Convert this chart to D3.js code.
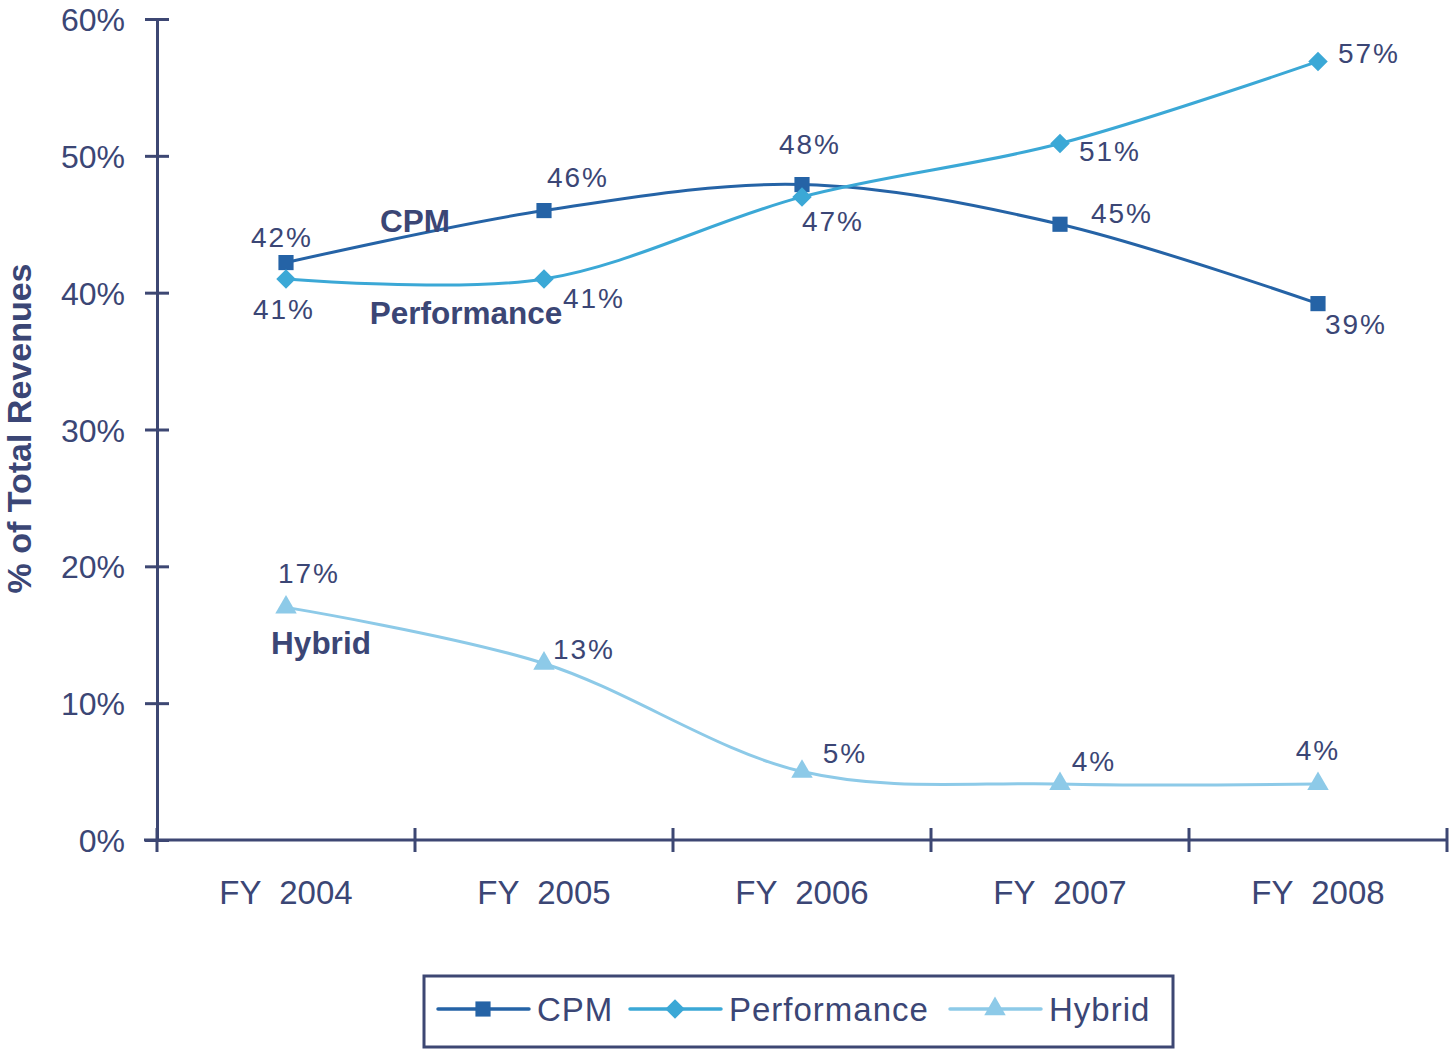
<!DOCTYPE html>
<html>
<head>
<meta charset="utf-8">
<script src="https://cdn.jsdelivr.net/npm/d3@7"></script>
<style>
  body { margin: 0; background: #fff; }
  svg text { font-family: "Liberation Sans", Arial, sans-serif; fill: #3B4675; }
</style>
</head>
<body>
<svg id="chart"></svg>
<script>
// data
var years = ['FY 2004', 'FY 2005', 'FY 2006', 'FY 2007', 'FY 2008'];
var cpm = [42.2, 46.0, 47.9, 45.0, 39.2];
var performance = [41.0, 41.0, 47.0, 50.9, 56.9];
var hybrid = [17.0, 12.9, 5.0, 4.1, 4.1];
var yTicks = [0, 10, 20, 30, 40, 50, 60];
var seriesNames = ['CPM', 'Performance', 'Hybrid'];

// label placement (dx, dy from the point)
var cpmLabelPos = [[-4, -26], [34, -34], [8, -41], [62, -11], [38, 20]];
var perfLabelPos = [[-2, 30], [50, 19], [31, 24], [50, 7], [51, -8]];
var hybridLabelPos = [[23, -34], [40, -15], [43, -19], [34, -23], [0, -34]];

var colors = { CPM: '#2563A6', Performance: '#3BA8D6', Hybrid: '#8DCAE8' };
var axisColor = '#3D4773';

var w = 1450, h = 1050;
var margin = { left: 157, right: 3, top: 19, bottom: 210 };

var svg = d3.select('#chart').attr('width', w).attr('height', h);

var x = d3.scaleBand()
    .domain(years)
    .range([margin.left, w - margin.right])
    .padding(0);

var y = d3.scaleLinear()
    .domain([0, 60])
    .range([h - margin.bottom, margin.top]);

// y axis
var yAxis = svg.append('g').attr('transform', 'translate(' + margin.left + ',0)')
  .call(d3.axisLeft(y).tickValues(yTicks).tickFormat(function(d){ return d + '%'; })
    .tickSizeInner(12).tickSizeOuter(0).tickPadding(20));
yAxis.select('.domain').attr('stroke', axisColor).attr('stroke-width', 3);
yAxis.selectAll('.tick line').attr('stroke', axisColor).attr('stroke-width', 3).attr('x2', 12).attr('x1', -12);
yAxis.selectAll('.tick text').style('font-size', '32px').attr('dy', '0.36em').style('fill', '#3B4675');

// x axis
var xTickPos = years.map(function(d){ return x(d); }).concat([w - margin.right]);
var xAxis = svg.append('g').attr('transform', 'translate(0,' + y(0) + ')');
xAxis.append('line')
  .attr('x1', margin.left - 13).attr('x2', w - margin.right)
  .attr('stroke', axisColor).attr('stroke-width', 3);
xAxis.selectAll('.xt')
  .data(xTickPos)
  .enter()
  .append('line')
  .attr('x1', function(d){ return d; }).attr('x2', function(d){ return d; })
  .attr('y1', -12).attr('y2', 12)
  .attr('stroke', axisColor).attr('stroke-width', 3);
xAxis.selectAll('.xl')
  .data(years)
  .enter()
  .append('text')
  .attr('x', function(d){ return x(d) + x.bandwidth() / 2; })
  .attr('y', 64)
  .attr('text-anchor', 'middle')
  .style('font-size', '33px')
  .style('white-space', 'pre')
  .text(function(d){ return d.replace(' ', '  '); });

// axis title
svg.append('text')
  .attr('transform', 'translate(31,' + (y(30) - 1) + ') rotate(-90)')
  .attr('text-anchor', 'middle')
  .style('font-size', '34px')
  .style('font-weight', 'bold')
  .text('% of Total Revenues');

var line = d3.line()
    .x(function(d, i){ return x(years[i]) + x.bandwidth() / 2; })
    .y(function(d){ return y(d); })
    .curve(d3.curveCatmullRom.alpha(0));

var series = [
  { name: 'CPM', values: cpm, symbol: d3.symbolSquare, size: 230, rot: 0 },
  { name: 'Performance', values: performance, symbol: d3.symbolSquare, size: 190, rot: 45 },
  { name: 'Hybrid', values: hybrid, symbol: d3.symbolTriangle, size: 200, rot: 0 }
];
var labelPos = { CPM: cpmLabelPos, Performance: perfLabelPos, Hybrid: hybridLabelPos };

series.forEach(function(s){
  var g = svg.append('g');
  g.append('path')
    .attr('d', line(s.values))
    .attr('fill', 'none')
    .attr('stroke', colors[s.name])
    .attr('stroke-width', 3);
  g.selectAll('path.m')
    .data(s.values)
    .enter()
    .append('path')
    .attr('class', 'm')
    .attr('d', d3.symbol().type(s.symbol).size(s.size))
    .attr('transform', function(d, i){
      return 'translate(' + (x(years[i]) + x.bandwidth() / 2) + ',' + y(d) + ') rotate(' + s.rot + ')';
    })
    .attr('fill', colors[s.name]);
  g.selectAll('text')
    .data(s.values)
    .enter()
    .append('text')
    .attr('x', function(d, i){ return x(years[i]) + x.bandwidth() / 2 + labelPos[s.name][i][0]; })
    .attr('y', function(d, i){ return y(d) + labelPos[s.name][i][1]; })
    .attr('dy', '0.36em')
    .attr('text-anchor', 'middle')
    .style('font-size', '28px')
    .style('letter-spacing', '2px')
    .text(function(d){ return Math.round(d) + '%'; });
});

// series name labels inside the plot
var nameLabels = [
  { text: 'CPM', x: 415, y: 221 },
  { text: 'Performance', x: 466, y: 313 },
  { text: 'Hybrid', x: 321, y: 643 }
];
svg.selectAll('text.nm')
  .data(nameLabels)
  .enter()
  .append('text')
  .attr('class', 'nm')
  .attr('x', function(d){ return d.x; })
  .attr('y', function(d){ return d.y; })
  .attr('dy', '0.36em')
  .attr('text-anchor', 'middle')
  .style('font-size', '31.5px')
  .style('font-weight', 'bold')
  .text(function(d){ return d.text; });

// legend
var legend = svg.append('g');
legend.append('rect')
  .attr('x', 424).attr('y', 976).attr('width', 749).attr('height', 71)
  .attr('fill', '#fff').attr('stroke', axisColor).attr('stroke-width', 3);
var legendX = [438, 630, 950];
seriesNames.forEach(function(name, i){
  var s = series[i];
  var lx = legendX[i];
  legend.append('line')
    .attr('x1', lx).attr('x2', lx + 91).attr('y1', 1009).attr('y2', 1009)
    .attr('stroke', colors[name]).attr('stroke-width', 3.5).attr('stroke-linecap', 'round');
  legend.append('path')
    .attr('d', d3.symbol().type(s.symbol).size(s.size)())
    .attr('transform', 'translate(' + (lx + 45) + ',1009) rotate(' + s.rot + ')')
    .attr('fill', colors[name]);
  legend.append('text')
    .attr('x', lx + 99).attr('y', 1009).attr('dy', '0.36em')
    .style('font-size', '33px')
    .style('letter-spacing', '1px')
    .text(name);
});
</script>
</body>
</html>
